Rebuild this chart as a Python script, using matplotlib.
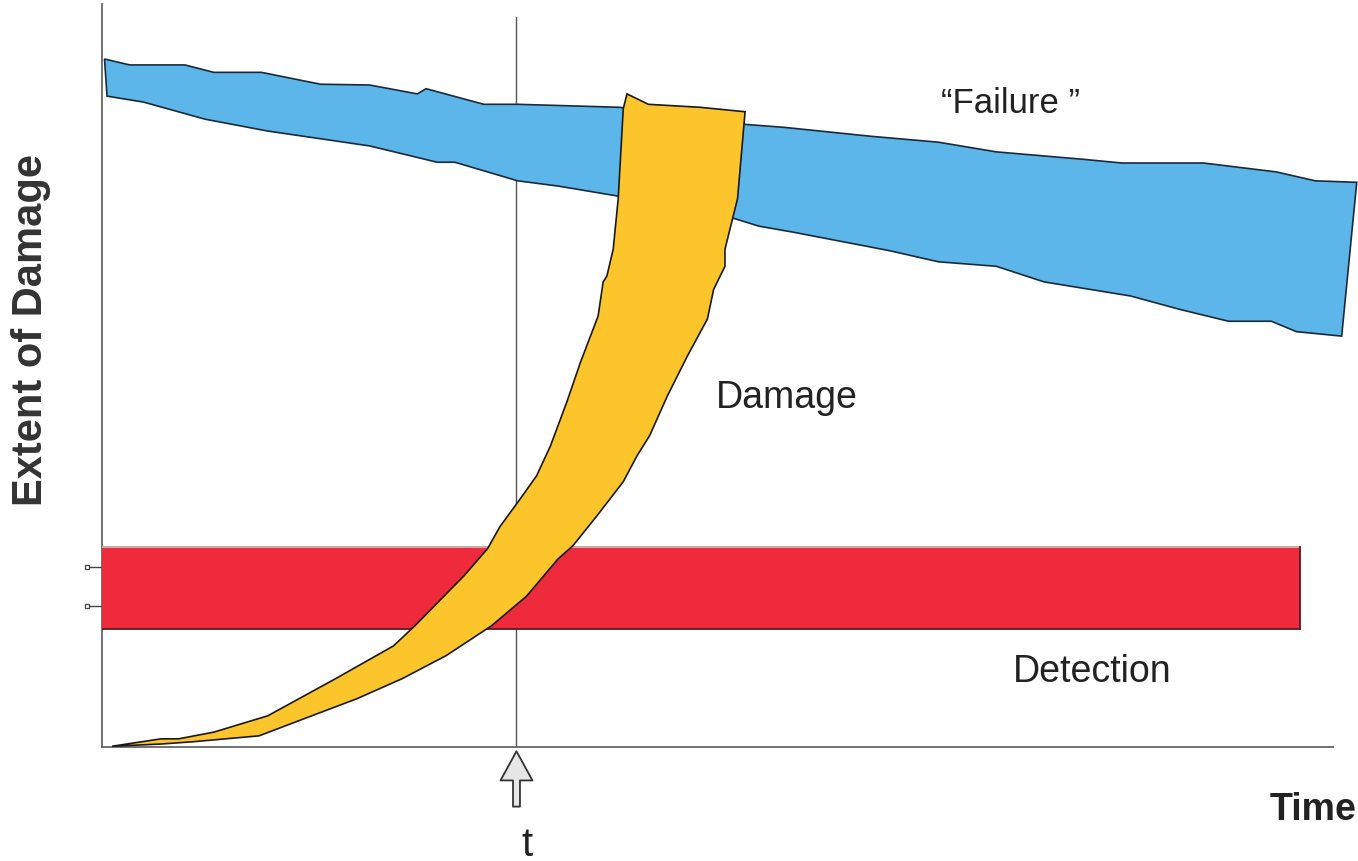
import numpy as np
import matplotlib
matplotlib.use("Agg")
import matplotlib.pyplot as plt

plt.rcParams['font.family'] = ['Liberation Sans', 'DejaVu Sans']

# "Failure" band (upper / lower edges), time 0-100, damage 0-100
fail_top_x = [0.2, 2.2, 6.6, 8.9, 12.7, 17.4, 21.3, 25.1, 25.8, 30.4, 33.1, 41.2,
              51.2, 54.3, 61.2, 66.6, 71.2, 78.1, 81.2, 87.7, 93.5, 96.6, 99.9]
fail_top_y = [92.6, 91.8, 91.8, 90.8, 90.8, 89.2, 89.1, 87.9, 88.6, 86.5, 86.5, 86.1,
              83.8, 83.4, 82.2, 81.4, 80.1, 79.1, 78.6, 78.6, 77.4, 76.2, 76.0]
fail_bot_x = [0.4, 3.3, 8.2, 13.2, 21.3, 26.7, 28.1, 33.1, 36.3, 40.9, 50.4, 52.3,
              55.0, 62.7, 66.6, 71.2, 75.0, 81.9, 85.8, 89.7, 93.1, 95.1, 98.7]
fail_bot_y = [87.6, 86.8, 84.5, 82.9, 80.9, 78.7, 78.7, 76.2, 75.5, 74.2, 71.1, 70.1,
              69.3, 66.8, 65.3, 64.7, 62.6, 60.7, 58.9, 57.3, 57.3, 55.9, 55.3]

# "Damage" band: upper-left edge (bottom -> top), top cap, lower-right edge (top -> bottom)
dmg_left_x = [0.8, 4.7, 6.1, 8.9, 13.2, 18.6, 23.2, 24.9, 28.8, 30.7, 31.7, 33.3,
              34.6, 35.7, 37.0, 38.1, 39.5, 39.9, 40.2, 40.7, 41.1, 41.5, 41.8]
dmg_left_y = [0.1, 1.1, 1.1, 2.0, 4.2, 9.2, 13.6, 16.3, 23.0, 26.7, 29.7, 33.4,
              36.5, 40.5, 46.4, 51.8, 58.0, 62.6, 63.4, 67.0, 73.8, 85.9, 87.9]
dmg_top_x = [43.5, 47.6]
dmg_top_y = [86.5, 86.1]
dmg_right_x = [51.2, 50.6, 49.6, 49.6, 48.7, 48.2, 46.6, 45.0, 43.6, 42.6, 41.5, 39.4,
               37.5, 36.3, 33.8, 31.0, 27.4, 23.9, 20.3, 16.7, 12.5, 7.2, 4.7, 0.8]
dmg_right_y = [85.5, 73.8, 67.0, 64.7, 61.6, 57.6, 52.6, 47.2, 41.9, 39.2, 35.7, 31.1,
               27.1, 25.3, 20.3, 16.3, 12.3, 9.2, 6.5, 4.2, 1.5, 0.7, 0.4, 0.1]

# "Detection" band
det_x = [0.0, 95.4]
det_y = [15.9, 26.9]

t_mark = 33.0
small_ticks = [19.0, 24.2]

BLUE = '#5db6ea'
YELLOW = '#fbc52b'
RED = '#ee2a3c'

fig = plt.figure(figsize=(13.58, 8.62), dpi=100)
ax = fig.add_axes([102/1358, 114/862, 1256/1358, 743/862])
ax.set_xlim(0, 100)
ax.set_ylim(0, 100)
ax.axis('off')

# axes lines
ax.plot([0, 0], [0, 100], color='#666666', lw=1.3, clip_on=False, zorder=1)
ax.plot([0, 98.0], [0, 0], color='#666666', lw=1.3, clip_on=False, zorder=1)
ax.plot([t_mark, t_mark], [0, 98.3], color='#555555', lw=1.0, zorder=1)

# small tick artifacts on the y axis
for yv in small_ticks:
    ax.plot([-1.3, 0], [yv, yv], color='#444444', lw=1.0, clip_on=False)
    ax.plot(-1.2, yv, marker='s', ms=3.5, mfc='white', mec='#444444', mew=0.9, clip_on=False)

# Failure band
bx = np.r_[fail_top_x, fail_bot_x[::-1]]
by = np.r_[fail_top_y, fail_bot_y[::-1]]
ax.fill(bx, by, facecolor=BLUE, edgecolor='#1a2a3a', lw=1.2, zorder=2, clip_on=False)

# Detection band
ax.fill_between(det_x, det_y[0], det_y[1], color=RED, lw=0, zorder=3)
ax.plot(det_x, [det_y[1]] * 2, color='#c9a8a8', lw=1.5, zorder=3)
ax.plot(det_x, [det_y[0]] * 2, color='#5a1a20', lw=1.3, zorder=3)
ax.plot([det_x[1]] * 2, det_y, color='#5a1a20', lw=1.3, zorder=3)

# Damage band
yx = np.r_[dmg_left_x, dmg_top_x, dmg_right_x]
yy = np.r_[dmg_left_y, dmg_top_y, dmg_right_y]
ax.fill(yx, yy, facecolor=YELLOW, edgecolor='#1a1a1a', lw=1.2, zorder=4)

# labels
ax.text(72.3, 86.8, '\u201cFailure \u201d', fontsize=25, ha='center', va='center', color='#222222')
ax.text(54.5, 47.1, 'Damage', fontsize=27, ha='center', va='center', color='#222222')
ax.text(78.8, 10.2, 'Detection', fontsize=27, ha='center', va='center', color='#222222')
ax.text(96.4, -8.3, 'Time', fontsize=27, fontweight='bold', ha='center', va='center',
        color='#222222', clip_on=False)
ax.text(33.8, -13.1, 't', fontsize=29, ha='center', va='center', color='#222222', clip_on=False)

ax.annotate('', xy=(t_mark, -0.2), xytext=(t_mark, -8.4), annotation_clip=False,
            arrowprops=dict(arrowstyle='simple,head_length=2.1,head_width=2.3,tail_width=0.5',
                            fc='#e6e6e6', ec='#333333', lw=1.3))

fig.text(31/1358, 1 - 330/862, 'Extent of Damage', rotation=90, fontsize=30,
         fontweight='bold', ha='center', va='center', color='#333333')

fig.savefig('out.png', dpi=100)
